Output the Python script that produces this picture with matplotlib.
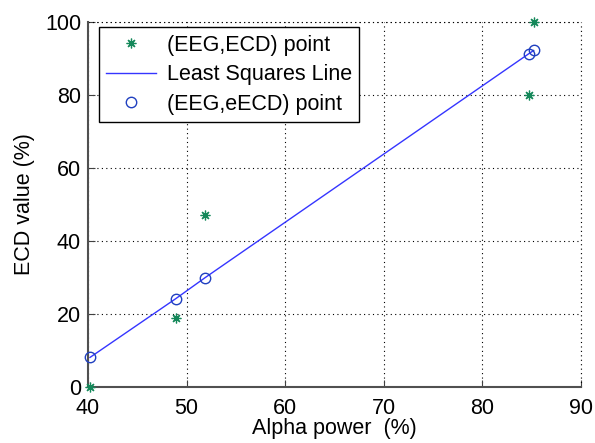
import matplotlib
matplotlib.use("Agg")
import matplotlib.pyplot as plt

# values
alpha_power = [40.2, 48.9, 51.9, 84.7, 85.2]     # EEG alpha power (%)
ecd_value = [0, 19, 47, 80, 100]                 # measured ECD (%)
eecd_value = [8.1, 24.2, 30.0, 91.3, 92.2]       # least-squares estimate (%)

X_TICKS = [40, 50, 60, 70, 80, 90]
Y_TICKS = [0, 20, 40, 60, 80, 100]

GREEN = "#14885a"
BLUE = "#2040c0"

plt.rcParams["font.family"] = ["Liberation Sans", "DejaVu Sans"]
plt.rcParams["font.size"] = 15.5

fig = plt.figure(figsize=(5.95, 4.43), dpi=100)
ax = fig.add_axes([88 / 595, 1 - 387 / 443, 493 / 595, 365 / 443])

ax.plot(alpha_power, ecd_value, ls="none", marker=(8, 2, 0), color=GREEN,
        ms=7, mew=0.9, clip_on=False, zorder=3, label="(EEG,ECD) point")
ax.plot(alpha_power, eecd_value, "-", color="#3535ff", lw=1.0,
        label="Least Squares Line")
ax.plot(alpha_power, eecd_value, "o", mfc="none", mec=BLUE, ms=7.5, mew=1.0,
        clip_on=False, zorder=3, label="(EEG,eECD) point")

ax.set_xlim(40, 90)
ax.set_ylim(0, 100)
ax.set_xticks(X_TICKS)
ax.set_yticks(Y_TICKS)
ax.grid(True, color="black", linestyle=(0, (1, 3)), lw=0.8)
ax.tick_params(direction="in", length=5, color="#404040", pad=5)
ax.tick_params(axis="x", pad=8)
for side in ("top", "right"):
    ax.spines[side].set_visible(False)
for side in ("left", "bottom"):
    ax.spines[side].set_color("#505050")
    ax.spines[side].set_linewidth(1.5)

# close the box with dotted lines, as the grid does in the original
ax.axhline(100, color="black", ls=(0, (1, 3)), lw=0.8, clip_on=False)
ax.axvline(90, color="black", ls=(0, (1, 3)), lw=0.8, clip_on=False)

ax.set_xlabel("Alpha power  (%)", labelpad=-1)
ax.set_ylabel("ECD value (%)", labelpad=7)

leg = ax.legend(loc="upper left", bbox_to_anchor=(0.022, 0.986),
                borderaxespad=0, fancybox=False, framealpha=1,
                edgecolor="black", handlelength=2.3, labelspacing=0.4,
                borderpad=0.35, handletextpad=0.5)
leg.get_frame().set_linewidth(1.0)

fig.savefig("out.png", dpi=100)
